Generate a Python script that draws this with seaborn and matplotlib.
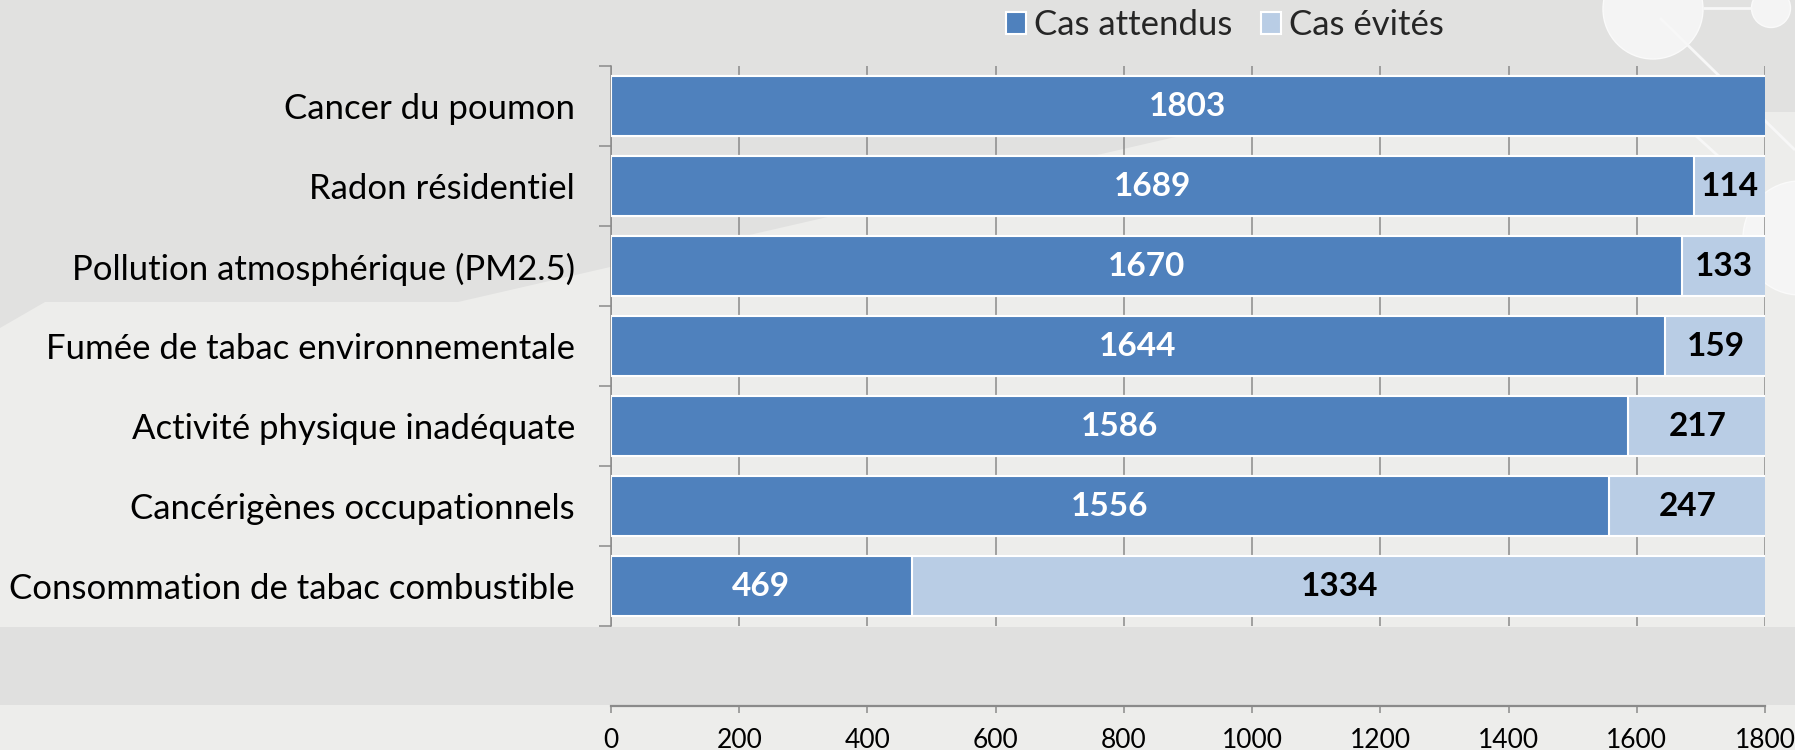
import matplotlib
matplotlib.use("Agg")
import matplotlib.pyplot as plt
import seaborn as sns
import pandas as pd
import numpy as np
from matplotlib.patches import Polygon, Rectangle, Circle, Patch

# Lung cancer cases: expected vs. avoided, by risk factor
categories = [
    "Cancer du poumon",
    "Radon résidentiel",
    "Pollution atmosphérique (PM2.5)",
    "Fumée de tabac environnementale",
    "Activité physique inadéquate",
    "Cancérigènes occupationnels",
    "Consommation de tabac combustible",
]
cas_attendus = [1803, 1689, 1670, 1644, 1586, 1556, 469]
cas_evites = [0, 114, 133, 159, 217, 247, 1334]
series_names = ["Cas attendus", "Cas évités"]
x_ticks = [0, 200, 400, 600, 800, 1000, 1200, 1400, 1600, 1800]

DARK = "#4f81bd"
LIGHT = "#b9cde5"
GRID = "#8a8a8a"

sns.set_theme(style="white")
plt.rcParams["font.family"] = ["Lato", "DejaVu Sans"]

W, H = 1795, 750
fig = plt.figure(figsize=(W / 100, H / 100), dpi=100)
fig.patch.set_facecolor("#e1e1e0")

# Slide-style backdrop, laid out in pixel units
bg = fig.add_axes([0, 0, 1, 1], zorder=0)
bg.set_xlim(0, W)
bg.set_ylim(H, 0)
bg.axis("off")
bg.add_patch(Polygon([(0, 328), (45, 302), (458, 302), (1284, 112), (W, 112), (W, H), (0, H)],
                     closed=True, fc="#ededeb", ec="none"))
bg.add_patch(Rectangle((0, 627), W, 78, fc="#e0e0df", ec="none"))
deco = dict(color="#f7f7f7", lw=2.0, solid_capstyle="butt")
bg.plot([1703, 1752], [8, 8], **deco)
bg.plot([1660, 1795], [18, 150], **deco)
bg.plot([1640, 1760], [85, 194], **deco)
bg.add_patch(Circle((1653, 9), 50, fc="#f4f4f4", ec="#fafafa", lw=1))
bg.add_patch(Circle((1771, 8), 19.5, fc="#f4f4f4", ec="#fafafa", lw=1))
bg.add_patch(Circle((1800, 238), 57, fc="#f5f5f5", ec="#fafafa", lw=1))

# Main chart axes
left, right, top, bottom = 611, 1765, 66, 706
ax = fig.add_axes([left / W, (H - bottom) / H, (right - left) / W, (bottom - top) / H], zorder=1)
ax.set_facecolor("none")

df = pd.DataFrame({"categorie": categories, "attendus": cas_attendus, "evites": cas_evites})
df["total"] = df["attendus"] + df["evites"]

bar_kw = dict(orient="h", width=0.74, edgecolor="white", linewidth=1.5,
              saturation=1, errorbar=None, ax=ax, zorder=3)
sns.barplot(data=df, y="categorie", x="total", color=LIGHT, **bar_kw)
sns.barplot(data=df, y="categorie", x="attendus", color=DARK, **bar_kw)

# Value labels
ax.bar_label(ax.containers[1], labels=[str(v) for v in cas_attendus], label_type="center",
             color="white", fontweight="bold", fontsize=24, zorder=5)
for i, (a, e) in enumerate(zip(cas_attendus, cas_evites)):
    if e > 0:
        ax.text(a + e / 2, i, str(e), ha="center", va="center", color="black",
                fontweight="bold", fontsize=24, zorder=5)

# Vertical gridlines across the category band only
ax.vlines(x_ticks, -0.5, len(categories) - 0.5, color=GRID, lw=1.1, zorder=1)

ax.set_xlim(0, 1800)
ax.set_ylim(len(categories) + 0.5, -0.5)
ax.set_xlabel("")
ax.set_ylabel("")

ax.set_xticks(x_ticks)
ax.set_xticklabels([str(t) for t in x_ticks], fontsize=19, color="black")
ax.tick_params(axis="x", direction="out", length=5, width=1.1, color=GRID,
               labelsize=19, pad=11, labelcolor="black", bottom=True)

ax.set_yticks(range(len(categories)))
ax.set_yticklabels(categories, fontsize=25, color="black")
ax.tick_params(axis="y", which="major", length=0, pad=26, labelsize=25, labelcolor="black")
ax.set_yticks(np.arange(-0.5, len(categories), 1.0), minor=True)
ax.tick_params(axis="y", which="minor", direction="out", length=9, width=1.1, color=GRID, left=True)

for side in ("top", "right"):
    ax.spines[side].set_visible(False)
ax.spines["left"].set_bounds(-0.5, len(categories) - 0.5)
ax.spines["left"].set_color(GRID)
ax.spines["left"].set_linewidth(1.1)
ax.spines["bottom"].set_color(GRID)
ax.spines["bottom"].set_linewidth(1.6)

handles = [Patch(fc=DARK, ec="white", lw=1.5), Patch(fc=LIGHT, ec="white", lw=1.5)]
fig.legend(handles=handles, labels=series_names, loc="center",
           bbox_to_anchor=(1225 / W, 1 - 25 / H), ncol=2, frameon=False, fontsize=25,
           handlelength=0.58, handleheight=0.58, handletextpad=0.25, columnspacing=0.8,
           borderpad=0, borderaxespad=0)

fig.savefig("out.png", dpi=100, facecolor=fig.get_facecolor())
